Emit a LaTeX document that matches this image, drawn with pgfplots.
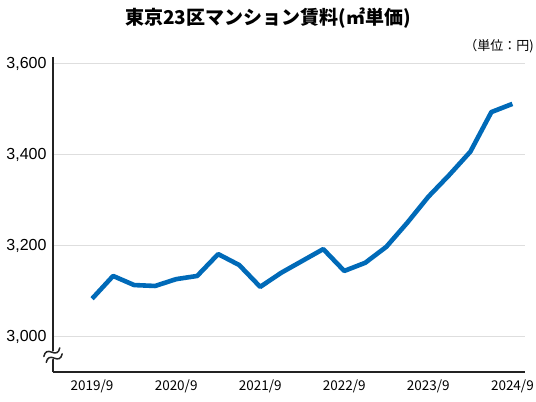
\documentclass[border=0pt]{standalone}
\usepackage{pgfplots}
\pgfplotsset{compat=1.18}
\usepackage{fontspec}
\setmainfont{Noto Sans CJK JP}
\newfontfamily\numfont{Liberation Sans}
\definecolor{rentblue}{RGB}{0,106,184}
\definecolor{gridgray}{RGB}{222,222,222}
\definecolor{axisdark}{RGB}{35,35,35}

\begin{document}
\begin{tikzpicture}[x=1pt,y=1pt]
\useasboundingbox (0,0) rectangle (536,402);
\node[font=\fontsize{19}{22}\selectfont\bfseries] at (268,384) {東京23区マンション賃料(㎡単価)};
\node[anchor=east, inner sep=0pt, font=\fontsize{13}{15}\selectfont] at (534,356) {（単位：円)};
\begin{axis}[
  at={(53pt,30pt)}, anchor=south west,
  scale only axis, width=472pt, height=315pt,
  xmin=-1.86, xmax=20.6, ymin=2923, ymax=3615,
  axis lines=left, axis line style={-, line width=1.8pt, axisdark},
  xtick={0,4,8,12,16,20},
  xticklabels={2019/9,2020/9,2021/9,2022/9,2023/9,2024/9},
  ytick={3000,3200,3400,3600},
  major tick length=0pt,
  ymajorgrids, grid style={gridgray, line width=1pt},
  xticklabel style={font=\fontsize{13.5}{15}\selectfont, yshift=-4pt},
  yticklabel style={font=\numfont\fontsize{16}{18}\selectfont, xshift=-3pt},
  /pgf/number format/assume math mode=true,
  clip=false,
]
\addplot[rentblue, line width=4.6pt, line join=round] coordinates {
  (0,3084) (1,3134) (2,3114) (3,3112) (4,3127) (5,3134) (6,3182)
  (7,3158) (8,3110) (9,3141) (10,3167) (11,3193) (12,3145) (13,3163)
  (14,3198) (15,3251) (16,3308) (17,3356) (18,3407) (19,3494) (20,3512)
};
% axis break mark
\begin{scope}[shift={(axis cs:-1.86,2960)}, x=1pt, y=1pt, rotate=22]
  \fill[white] (-2.5,-3.5) rectangle (2.5,3.5);
  \draw[axisdark, line width=1.5pt, line cap=round]
    (-9,-4.2) .. controls (-6,0.3) and (-3,-0.2) .. (0,-3.2)
    .. controls (3,-6.2) and (6,-6.7) .. (9,-2.2);
  \draw[axisdark, line width=1.5pt, line cap=round]
    (-9,2.2) .. controls (-6,6.7) and (-3,6.2) .. (0,3.2)
    .. controls (3,0.2) and (6,-0.3) .. (9,4.2);
\end{scope}
\end{axis}
\end{tikzpicture}
\end{document}
